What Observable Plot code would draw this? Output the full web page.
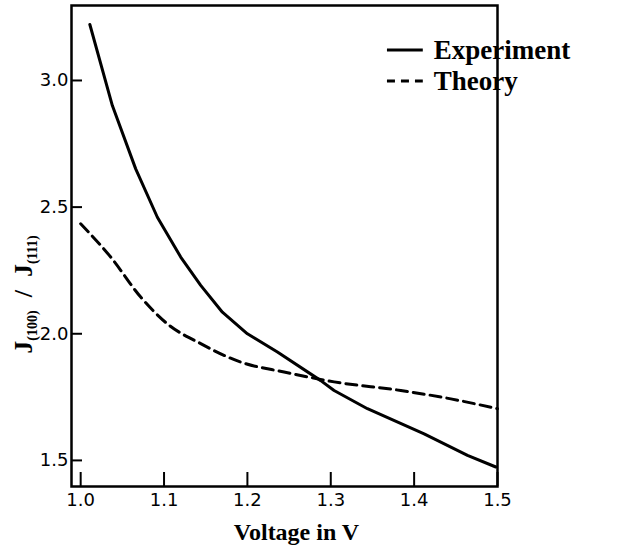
<!DOCTYPE html>
<html><head><meta charset="utf-8">
<script src="https://cdn.jsdelivr.net/npm/d3@7"></script>
<script src="https://cdn.jsdelivr.net/npm/@observablehq/plot@0.6"></script>
<style>body{margin:0;background:#fff}</style>
</head><body><div id="chart"></div>
<script>
// Experiment series (voltage in V, ratio J(100)/J(111))
const expVoltage = [1.011, 1.038, 1.066, 1.092, 1.120, 1.144, 1.170, 1.200, 1.236, 1.288, 1.304, 1.344, 1.412, 1.464, 1.498];
const expRatio   = [3.221, 2.901, 2.651, 2.460, 2.303, 2.191, 2.085, 2.000, 1.928, 1.815, 1.776, 1.704, 1.605, 1.520, 1.474];
// Theory series
const theoryVoltage = [1.000, 1.036, 1.072, 1.104, 1.144, 1.192, 1.244, 1.304, 1.384, 1.444, 1.500];
const theoryRatio   = [2.434, 2.303, 2.145, 2.039, 1.961, 1.888, 1.849, 1.810, 1.776, 1.743, 1.704];
// Ticks and labels
const xTicks = [1.0, 1.1, 1.2, 1.3, 1.4, 1.5];
const yTicks = [1.5, 2.0, 2.5, 3.0];
const seriesNames = ["Experiment", "Theory"];
const xTitle = "Voltage in V";
const yTitleParts = [["J", false], ["(100)", true], ["  /  ", false], ["J", false], ["(111)", true]];

const experiment = expVoltage.map((v, i) => ({v, r: expRatio[i]}));
const theory = theoryVoltage.map((v, i) => ({v, r: theoryRatio[i]}));
const legend = [
  {name: seriesNames[0], y: 3.12},
  {name: seriesNames[1], y: 2.998}
];
const serif = "'Liberation Serif', 'Times New Roman', serif";
const sans = "'DejaVu Sans', Verdana, sans-serif";

const plot = Plot.plot({
  width: 623, height: 546,
  marginLeft: 71, marginRight: 126, marginTop: 5, marginBottom: 60,
  x: {domain: [0.989, 1.5]},
  y: {domain: [1.397, 3.296]},
  style: {fontFamily: sans, background: "white", color: "black"},
  marks: [
    Plot.axisX(xTicks, {tickSize: 0, tickPadding: 7, tickFormat: d3.format(".1f"), fontSize: 18, fontFamily: sans, label: null}),
    Plot.axisY(yTicks, {tickSize: 0, tickPadding: 3, tickFormat: d3.format(".1f"), fontSize: 18, fontFamily: sans, label: null}),
    Plot.tickX(xTicks, {x: d => d, insetTop: 467, strokeWidth: 2}),
    Plot.tickY(yTicks, {y: d => d, insetRight: 415, strokeWidth: 2}),
    Plot.line(experiment, {x: "v", y: "r", strokeWidth: 3}),
    Plot.line(theory, {x: "v", y: "r", strokeWidth: 3, strokeDasharray: "11,6", curve: "monotone-x"}),
    Plot.ruleY([legend[0]], {y: "y", x1: 1.368, x2: 1.411, strokeWidth: 3}),
    Plot.ruleY([legend[1]], {y: "y", x1: 1.368, x2: 1.411, strokeWidth: 3, strokeDasharray: "8,6"}),
    Plot.text(legend, {x: 1.4235, y: "y", text: "name", textAnchor: "start", fontSize: 27, fontWeight: "bold", fontFamily: serif}),
    Plot.text([xTitle], {frameAnchor: "bottom", dx: 12, dy: 53, fontSize: 24, fontWeight: "bold", fontFamily: serif}),
    Plot.text(["y"], {frameAnchor: "left", fontSize: 26, fontWeight: "bold", fontFamily: serif,
      render(index, scales, values, dims, context, next) {
        const g = next(index, scales, values, dims, context);
        d3.select(g).selectAll("text").each(function () {
          const t = d3.select(this);
          t.text(null)
            .attr("x", null).attr("y", null).attr("dy", null)
            .attr("text-anchor", "middle")
            .attr("transform", "translate(31,294) rotate(-90)");
          let sub = false;
          for (const [s, isSub] of yTitleParts) {
            const ts = t.append("tspan").text(s);
            if (isSub) ts.attr("font-size", 14);
            if (isSub && !sub) ts.attr("dy", 5);
            else if (!isSub && sub) ts.attr("dy", -5);
            sub = isSub;
          }
        });
        return g;
      }
    }),
    Plot.frame({stroke: "black", strokeWidth: 2.5})
  ]
});
document.getElementById("chart").append(plot);
</script>
</body></html>
